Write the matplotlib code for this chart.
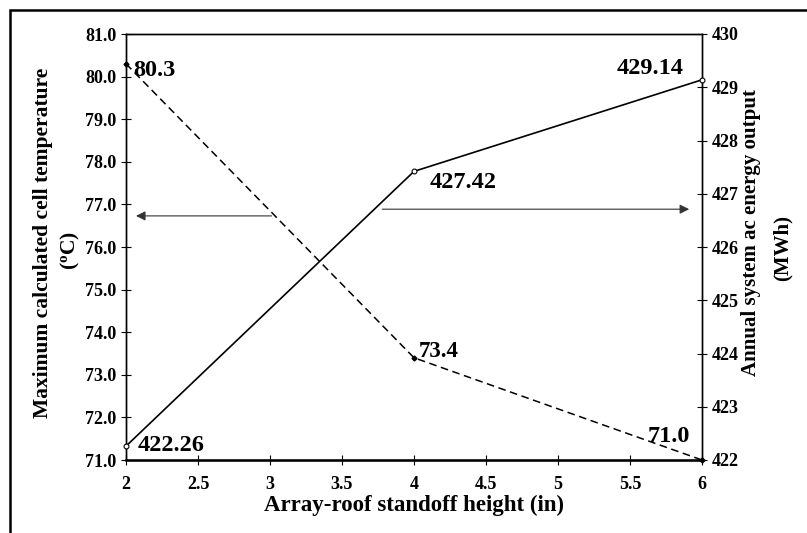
import numpy as np
import matplotlib.pyplot as plt
from matplotlib.patches import Rectangle

# Data
standoff = [2, 4, 6]
cell_temp = [80.3, 73.4, 71.0]
energy_out = [422.26, 427.42, 429.14]
temp_labels = ['80.3', '73.4', '71.0']
energy_labels = ['422.26', '427.42', '429.14']

plt.rcParams['font.family'] = ['Liberation Serif', 'DejaVu Serif']
plt.rcParams['font.weight'] = 'bold'
plt.rcParams['axes.labelweight'] = 'bold'
plt.rcParams['mathtext.fontset'] = 'custom'
plt.rcParams['mathtext.rm'] = 'Liberation Serif:bold'
plt.rcParams['mathtext.it'] = 'Liberation Serif:bold'
plt.rcParams['mathtext.bf'] = 'Liberation Serif:bold'

W, H = 807, 533
fig = plt.figure(figsize=(W / 100, H / 100), dpi=100)
ax = fig.add_axes([126 / W, 1 - 460 / H, 576 / W, 426 / H])
ax2 = ax.twinx()

# outer frame around the whole chart
fig.patches.append(Rectangle((10 / W, -0.1), 1.2, 1.1 - 10 / H,
                             transform=fig.transFigure, fill=False,
                             lw=1.8, ec='black'))

ax.plot(standoff, cell_temp, ls=(0, (5, 3)), color='black', lw=1.1,
        marker='D', ms=2.5, mfc='black', clip_on=False, zorder=3)
ax2.plot(standoff, energy_out, ls='-', color='black', lw=1.2,
         marker='o', ms=3.5, mfc='white', mew=0.8, clip_on=False, zorder=3)

ax.set_xlim(2, 6)
ax.set_ylim(71, 81)
ax2.set_ylim(422, 430)
ax.set_xticks(np.arange(2, 6.01, 0.5))
ax.set_xticklabels(['2', '2.5', '3', '3.5', '4', '4.5', '5', '5.5', '6'])
ax.set_yticks(np.arange(71, 81.01, 1))
ax.set_yticklabels(['%.1f' % v for v in np.arange(71, 81.01, 1)])
ax2.set_yticks(np.arange(422, 430.1, 1))

for a in (ax, ax2):
    a.tick_params(direction='inout', length=7, width=0.8, labelsize=13)
    for s in a.spines.values():
        s.set_linewidth(1.0)
ax.tick_params(axis='x', pad=8)
ax.spines['bottom'].set_linewidth(1.8)

# value labels
ax.text(2.05, 80.15, temp_labels[0], fontsize=17.5, ha='left', va='center')
ax.text(4.03, 73.54, temp_labels[1], fontsize=16.5, ha='left', va='center')
ax.text(5.92, 71.54, temp_labels[2], fontsize=17.5, ha='right', va='center')
ax2.text(2.08, 422.28, energy_labels[0], fontsize=17.5, ha='left', va='center')
ax2.text(4.11, 427.22, energy_labels[1], fontsize=17.5, ha='left', va='center')
ax2.text(5.87, 429.36, energy_labels[2], fontsize=17.5, ha='right', va='center')

# arrows pointing to the relevant axis
ax.annotate('', xy=(2.05, 76.73), xytext=(3.03, 76.73),
            arrowprops=dict(arrowstyle='-|>', color='#333333', lw=0.8,
                            mutation_scale=14))
ax2.annotate('', xy=(5.93, 426.71), xytext=(3.76, 426.71),
             arrowprops=dict(arrowstyle='-|>', color='#333333', lw=0.8,
                             mutation_scale=14))

ax.set_xlabel('Array-roof standoff height (in)', fontsize=16.5, labelpad=1)

# axis titles placed by hand, two lines each
fig.text(43 / W, 1 - 243 / H, 'Maximum calculated cell temperature',
         rotation=90, ha='center', va='center', fontsize=15.5)
fig.text(70 / W, 1 - 250 / H, '($^{o}$C)',
         rotation=90, ha='center', va='center', fontsize=15.5)
fig.text(751 / W, 1 - 232 / H, 'Annual system ac energy output',
         rotation=90, ha='center', va='center', fontsize=15)
fig.text(783 / W, 1 - 248 / H, '(MWh)',
         rotation=90, ha='center', va='center', fontsize=15)

fig.savefig('out.png', dpi=100)
